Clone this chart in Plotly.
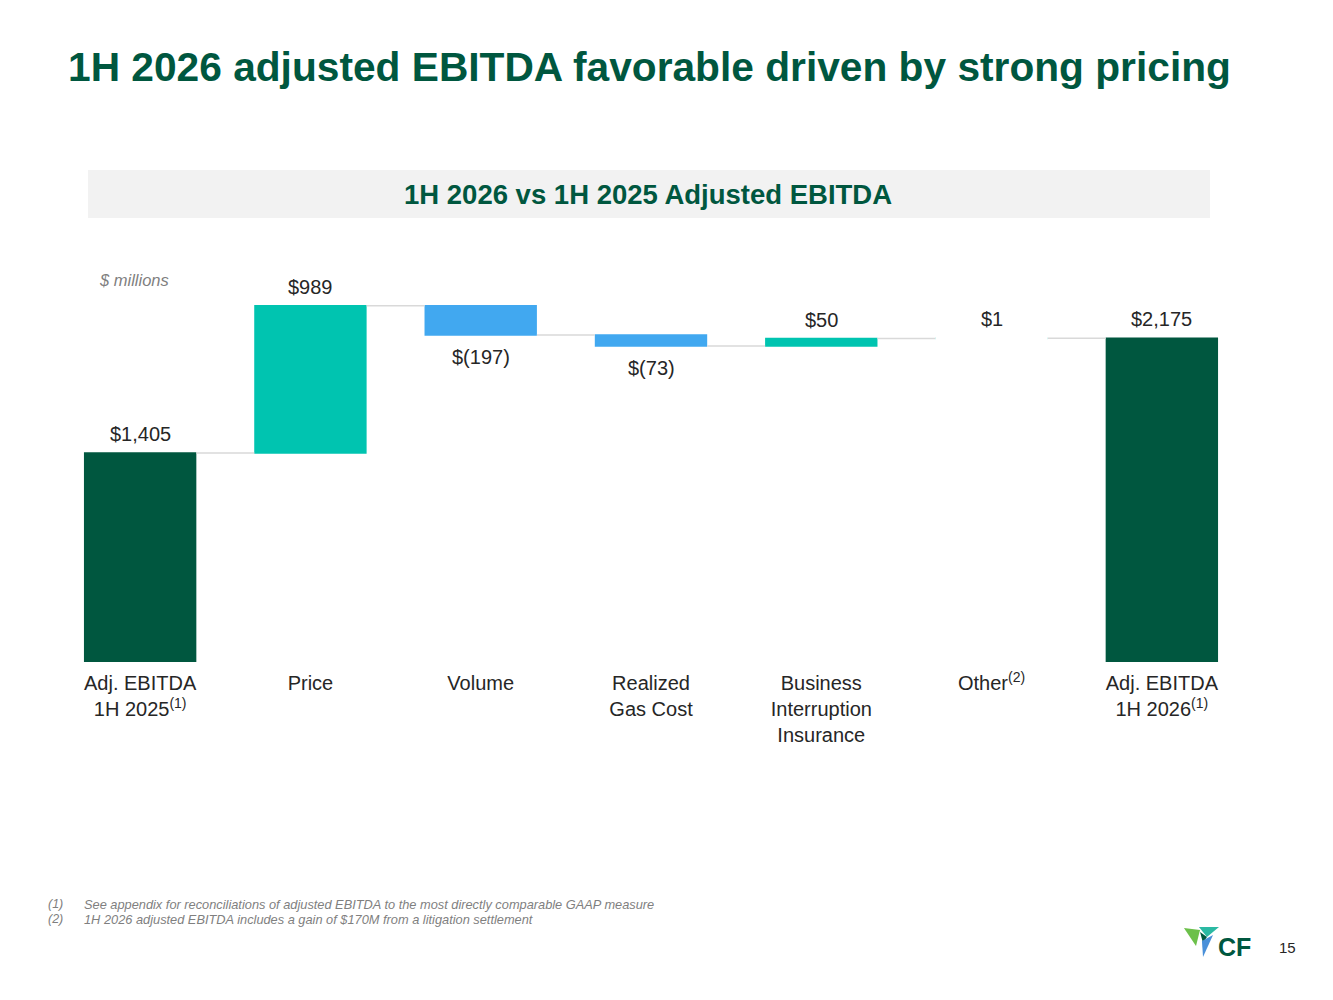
import plotly.graph_objects as go

# waterfall data ($ millions)
categories = ["Adj. EBITDA 1H 2025", "Price", "Volume", "Realized Gas Cost",
              "Business Interruption Insurance", "Other", "Adj. EBITDA 1H 2026"]
tick_labels = ["Adj. EBITDA<br>1H 2025<sup>(1)</sup>", "Price", "Volume",
               "Realized<br>Gas Cost", "Business<br>Interruption<br>Insurance",
               "Other<sup>(2)</sup>", "Adj. EBITDA<br>1H 2026<sup>(1)</sup>"]
measures = ["absolute", "relative", "relative", "relative", "relative", "relative", "total"]
values = [1405, 989, -197, -73, 50, 1, 2175]

footnotes = ["See appendix for reconciliations of adjusted EBITDA to the most directly comparable GAAP measure",
             "1H 2026 adjusted EBITDA includes a gain of $170M from a litigation settlement"]

DARK_GREEN = "#00573F"
TEAL = "rgba(0,196,176,0.999)"
BLUE = "rgba(65,168,240,0.999)"
TXT = "#262626"
FONT = "Liberation Sans, Arial"
BAR_W = 0.66

W, H = 1333, 1000
OFF = 8  # page body margin
ML, MR, MT, MB = 47, 94, 242, 346
PW, PH = W - ML - MR, H - MT - MB


def px(x, y):
    # page pixel -> paper coords
    return (x - OFF - ML) / PW, (H - MB - (y - OFF)) / PH


def path(points):
    pts = [px(x, y) for x, y in points]
    return "M " + " L ".join(f"{a:.4f},{b:.4f}" for a, b in pts) + " Z"


def money(v):
    return f"${abs(v):,}" if v >= 0 else f"$({abs(v):,})"


fig = go.Figure(go.Waterfall(
    x=categories,
    y=values,
    measure=measures,
    width=BAR_W,
    increasing=dict(marker=dict(color=TEAL, line=dict(width=0))),
    decreasing=dict(marker=dict(color=BLUE, line=dict(width=0))),
    totals=dict(marker=dict(color=DARK_GREEN, line=dict(width=0))),
    connector=dict(line=dict(color="#D9D9D9", width=1.5)),
    hoverinfo="skip",
))

fig.update_xaxes(tickmode="array", tickvals=categories, ticktext=tick_labels,
                 tickfont=dict(family=FONT, size=20, color=TXT),
                 showline=False, showgrid=False, zeroline=False, ticks="",
                 ticklabelstandoff=7, range=[-0.5, 6.5])
fig.update_yaxes(range=[0, PH / 0.1488], visible=False, showgrid=False, zeroline=False)

annotations = []
shapes = []

# value labels, above rises / totals, below falls
running = 0
for i, (cat, m, v) in enumerate(zip(categories, measures, values)):
    if m == "absolute":
        base, end = 0, v
    elif m == "total":
        base, end = 0, running
    else:
        base, end = running, running + v
    running = end
    if end >= base:
        y, shift = end, 19
    else:
        y, shift = end, -22
    annotations.append(dict(x=cat, y=y, xref="x", yref="y", text=money(end - base),
                            showarrow=False, yanchor="middle", yshift=shift,
                            font=dict(family=FONT, size=20, color=TXT)))
    if abs(end - base) < 5:
        # sub-pixel bar: plotly widens it to 1px, the slide shows nothing there
        shapes.append(dict(type="line", xref="x", yref="y",
                           x0=i - BAR_W / 2, x1=i + BAR_W / 2, y0=(base + end) / 2, y1=(base + end) / 2,
                           line=dict(color="white", width=3)))

shapes += [
    # subtitle band
    dict(type="rect", xref="paper", yref="paper",
         x0=px(88, 0)[0], x1=px(1210, 0)[0], y0=px(0, 218)[1], y1=px(0, 170)[1],
         fillcolor="#F2F2F2", line=dict(width=0), layer="below"),
    # logo triangles
    dict(type="path", xref="paper", yref="paper", path=path([(1184, 928), (1200, 930), (1196, 946)]),
         fillcolor="#6CC04A", line=dict(width=0)),
    dict(type="path", xref="paper", yref="paper", path=path([(1199, 927), (1219, 927), (1207, 937)]),
         fillcolor="#2BB9A3", line=dict(width=0)),
    dict(type="path", xref="paper", yref="paper", path=path([(1200, 932), (1207, 937), (1203, 943)]),
         fillcolor=DARK_GREEN, line=dict(width=0)),
    dict(type="path", xref="paper", yref="paper", path=path([(1202, 941), (1213, 935), (1203, 957)]),
         fillcolor="#4A90D9", line=dict(width=0)),
]


def add_text(x, y, text, size, color, xanchor="left", bold=False, italic=False):
    t = text
    if bold:
        t = f"<b>{t}</b>"
    if italic:
        t = f"<i>{t}</i>"
    ax, ay = px(x, y)
    annotations.append(dict(x=ax, y=ay, xref="paper", yref="paper", text=t, showarrow=False,
                            xanchor=xanchor, yanchor="middle",
                            font=dict(family=FONT, size=size, color=color)))


add_text(66, 67, "1H 2026 adjusted EBITDA favorable driven by strong pricing", 40.7, DARK_GREEN, bold=True)
add_text(648, 194, "1H 2026 vs 1H 2025 Adjusted EBITDA", 27.5, DARK_GREEN, xanchor="center", bold=True)
add_text(97, 280, "$ millions", 16.5, "#7F7F7F", italic=True)
for i, note in enumerate(footnotes):
    add_text(46, 904 + 15 * i, f"({i + 1})", 12.5, "#7F7F7F", italic=True)
    add_text(82, 904 + 15 * i, note, 12.8, "#7F7F7F", italic=True)
add_text(1234, 947, "CF", 25, DARK_GREEN, xanchor="center", bold=True)
add_text(1287, 947, "15", 15, TXT, xanchor="center")

fig.update_layout(
    width=W, height=H,
    margin=dict(l=ML, r=MR, t=MT, b=MB),
    paper_bgcolor="white", plot_bgcolor="white",
    showlegend=False,
    shapes=shapes,
    annotations=annotations,
    font=dict(family=FONT),
)

fig.write_html("out.html")
